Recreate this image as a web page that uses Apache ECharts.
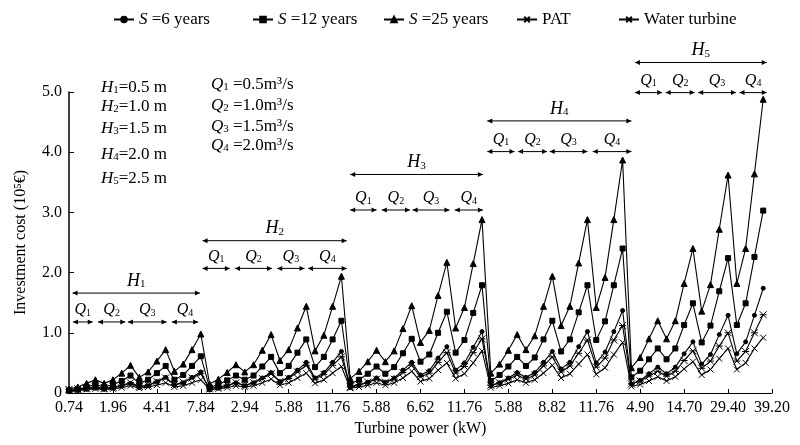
<!DOCTYPE html>
<html lang="en">
<head>
    <meta charset="UTF-8">
    <title>Investment cost vs turbine power</title>
    <script src="https://cdn.jsdelivr.net/npm/echarts/dist/echarts.min.js"></script>
</head>
<style>
    *{
        margin: 0;
        padding: 0;
    }
    html,body{
        width: 100%;
        height: 100%;
        overflow: hidden;
        background: #fff;
    }
    #main{
        width: 800px;
        height: 445px;
    }
</style>
<body>
<div id="main"></div>
<script>
    // x labels, one every 5 points (80 points = 5 heads x 4 flows x 4 efficiencies)
    let xLabels = ['0.74','1.96','4.41','7.84','2.94','5.88','11.76','5.88','6.62','11.76','5.88','8.82','11.76','4.90','14.70','29.40','39.20'];

    let s25 = [
        0.07,0.10,0.16,0.22, 0.16,0.22,0.33,0.46, 0.26,0.35,0.53,0.72, 0.36,0.48,0.72,0.98,
        0.15,0.23,0.34,0.47, 0.35,0.47,0.71,0.97, 0.54,0.72,1.08,1.44, 0.70,0.96,1.44,1.94,
        0.24,0.36,0.52,0.71, 0.52,0.70,1.07,1.45, 0.84,1.04,1.62,2.17, 1.08,1.42,2.15,2.88,
        0.33,0.48,0.71,0.97, 0.72,0.95,1.44,1.94, 1.12,1.44,2.16,2.88, 1.42,1.92,2.88,3.87,
        0.42,0.59,0.90,1.20, 0.90,1.20,1.82,2.40, 1.36,1.80,2.72,3.62, 1.82,2.40,3.64,4.88
    ];
    let s12 = [
        0.04,0.06,0.10,0.14, 0.10,0.14,0.20,0.29, 0.16,0.22,0.33,0.45, 0.22,0.30,0.45,0.61,
        0.09,0.14,0.21,0.29, 0.22,0.29,0.44,0.60, 0.33,0.45,0.67,0.89, 0.43,0.60,0.89,1.20,
        0.15,0.22,0.32,0.44, 0.32,0.43,0.66,0.90, 0.52,0.64,1.00,1.35, 0.67,0.88,1.33,1.79,
        0.20,0.30,0.44,0.60, 0.45,0.59,0.89,1.20, 0.69,0.89,1.34,1.79, 0.88,1.19,1.79,2.40,
        0.26,0.37,0.56,0.74, 0.56,0.74,1.13,1.49, 0.84,1.12,1.69,2.24, 1.13,1.49,2.26,3.03
    ];
    let s6 = [
        0.02,0.04,0.06,0.08, 0.06,0.08,0.12,0.16, 0.09,0.12,0.19,0.26, 0.13,0.17,0.26,0.35,
        0.05,0.08,0.12,0.17, 0.12,0.17,0.25,0.34, 0.19,0.26,0.38,0.51, 0.25,0.34,0.51,0.69,
        0.09,0.13,0.18,0.25, 0.18,0.25,0.38,0.51, 0.30,0.37,0.58,0.77, 0.38,0.50,0.76,1.02,
        0.12,0.17,0.25,0.34, 0.26,0.34,0.51,0.69, 0.40,0.51,0.77,1.02, 0.50,0.68,1.02,1.37,
        0.15,0.21,0.32,0.43, 0.32,0.43,0.65,0.85, 0.48,0.64,0.97,1.29, 0.65,0.85,1.29,1.74
    ];
    let pat = [
        0.04,0.05,0.06,0.07, 0.06,0.07,0.09,0.12, 0.08,0.10,0.13,0.17, 0.10,0.12,0.17,0.22,
        0.06,0.07,0.09,0.12, 0.10,0.12,0.17,0.23, 0.13,0.17,0.25,0.33, 0.16,0.22,0.33,0.44,
        0.08,0.10,0.13,0.17, 0.13,0.17,0.25,0.36, 0.19,0.24,0.38,0.50, 0.24,0.32,0.50,0.70,
        0.09,0.12,0.16,0.22, 0.17,0.22,0.33,0.46, 0.25,0.32,0.48,0.64, 0.31,0.42,0.64,0.84,
        0.11,0.14,0.20,0.27, 0.20,0.27,0.40,0.52, 0.30,0.39,0.57,0.74, 0.39,0.50,0.74,0.92
    ];
    let turbine = [
        0.06,0.07,0.08,0.10, 0.08,0.10,0.13,0.17, 0.11,0.13,0.19,0.25, 0.14,0.18,0.25,0.32,
        0.08,0.10,0.13,0.17, 0.13,0.17,0.24,0.32, 0.19,0.24,0.35,0.46, 0.23,0.31,0.46,0.60,
        0.10,0.14,0.18,0.23, 0.18,0.23,0.34,0.46, 0.27,0.33,0.51,0.67, 0.33,0.44,0.67,0.90,
        0.13,0.17,0.23,0.30, 0.23,0.30,0.45,0.60, 0.35,0.45,0.66,0.88, 0.43,0.58,0.88,1.12,
        0.15,0.20,0.28,0.36, 0.28,0.36,0.54,0.70, 0.41,0.53,0.78,1.00, 0.53,0.69,1.00,1.30
    ];

    let names = ['S=6 years','S=12 years','S=25 years','PAT','Water turbine'];

    // annotation spans in data units (point index, cost level)
    let hSpans = [[0.4,14.9],[15.2,31.6],[32.0,47.1],[47.6,64.0],[64.4,79.4]];
    let hLevels = [1.66,2.53,3.63,4.52,5.49];
    let qSpans = [
        [[0.45,2.7],[3.3,6.4],[6.7,11.1],[11.7,14.7]],
        [[15.2,18.3],[18.9,23.1],[23.7,26.8],[27.2,31.6]],
        [[32.0,35.0],[35.6,38.8],[39.1,43.3],[43.9,47.1]],
        [[47.6,50.7],[51.1,54.4],[54.7,59.0],[59.6,64.0]],
        [[64.4,67.5],[67.9,71.2],[71.6,75.9],[76.3,79.4]]
    ];
    let qLevels = [1.18,2.07,3.04,4.01,4.99];
    let heads = ['0.5','1.0','1.5','2.0','2.5'];
    let flows = ['0.5','1.0','1.5','2.0'];

    let font = 'Liberation Serif';
    let chart = echarts.init(document.getElementById('main'));

    function pts(arr){
        return arr.map((v,i)=>[i,v]);
    }
    function mkSeries(name,arr,symbol,size){
        return {
            name: name,
            type: 'line',
            data: pts(arr),
            symbol: symbol,
            symbolSize: size,
            showAllSymbol: true,
            lineStyle: {color: '#000', width: 1.1},
            itemStyle: {color: '#000', borderColor: '#000', borderWidth: 1}
        };
    }

    // one legend block per item, so each sits where the original has it
    let legendLeft = [108, 247, 378, 511, 613];
    let legends = names.map((n,k)=>({
        top: 6,
        left: legendLeft[k],
        itemWidth: 20,
        itemHeight: 7,
        data: [n],
        textStyle: {
            fontFamily: font,
            fontSize: 17,
            color: '#000',
            rich: {
                i: {fontFamily: font, fontSize: 17, fontStyle: 'italic', color: '#000'},
                n: {fontFamily: font, fontSize: 17, color: '#000'}
            }
        },
        formatter: function(name){
            if (name.indexOf('S=')==0){
                return '{i|S}{n| =' + name.slice(2) + '}';
            }
            return name;
        }
    }));

    let options = {
        animation: false,
        backgroundColor: '#fff',
        legend: legends,
        grid: {left: 69, right: 28, top: 92, bottom: 52},
        xAxis: {
            type: 'value',
            min: 0,
            max: 80,
            interval: 5,
            name: 'Turbine power (kW)',
            nameLocation: 'middle',
            nameGap: 28,
            nameTextStyle: {fontFamily: font, fontSize: 16, color: '#000'},
            axisLine: {lineStyle: {color: '#000', width: 1}},
            axisTick: {inside: true, length: 4, lineStyle: {color: '#000'}},
            splitLine: {show: false},
            axisLabel: {
                fontFamily: font,
                fontSize: 16,
                color: '#000',
                margin: 7,
                formatter: function(v){
                    return xLabels[Math.round(v/5)];
                }
            }
        },
        yAxis: {
            type: 'value',
            min: 0,
            max: 5,
            interval: 1,
            name: 'Investment cost (10⁵€)',
            nameLocation: 'middle',
            nameGap: 40,
            nameTextStyle: {fontFamily: font, fontSize: 16, color: '#000'},
            axisLine: {show: true, lineStyle: {color: '#000', width: 1.5}},
            axisTick: {show: true, inside: true, length: 5, lineStyle: {color: '#000'}},
            splitLine: {show: false},
            axisLabel: {
                fontFamily: font,
                fontSize: 16,
                color: '#000',
                margin: 7,
                formatter: function(v){
                    return v==0 ? '0' : v.toFixed(1);
                }
            }
        },
        series: [
            mkSeries(names[0], s6, 'circle', 4),
            mkSeries(names[1], s12, 'rect', 5),
            mkSeries(names[2], s25, 'triangle', 6),
            mkSeries(names[3], pat, 'path://M0,0L10,10M10,0L0,10', 6),
            mkSeries(names[4], turbine, 'path://M0,0L10,10M10,0L0,10M0,5L10,5', 7)
        ]
    };
    chart.setOption(options);

    // arrows and labels drawn over the plot
    function arrow(x1,x2,y){
        let h = 5, w = 2.5;
        return [
            {type: 'line', shape: {x1: x1, y1: y, x2: x2, y2: y}, style: {stroke: '#000', lineWidth: 1}},
            {type: 'polygon', shape: {points: [[x1,y],[x1+h,y-w],[x1+h,y+w]]}, style: {fill: '#000'}},
            {type: 'polygon', shape: {points: [[x2,y],[x2-h,y-w],[x2-h,y+w]]}, style: {fill: '#000'}}
        ];
    }
    function subText(x,y,letter,idx,size,rest,align,valign){
        let sub = Math.round(size*0.62);
        return {
            type: 'text',
            x: x,
            y: y,
            style: {
                text: '{i|' + letter + '}{s|' + idx + '}' + (rest ? '{n|' + rest + '}' : ''),
                align: align,
                verticalAlign: valign,
                rich: {
                    i: {fontFamily: font, fontSize: size, fontStyle: 'italic', fill: '#000', verticalAlign: 'bottom', lineHeight: size+2},
                    s: {fontFamily: font, fontSize: sub, fill: '#000', verticalAlign: 'bottom', lineHeight: size-1},
                    n: {fontFamily: font, fontSize: size, fill: '#000', verticalAlign: 'bottom', lineHeight: size+2}
                }
            }
        };
    }

    let els = [];
    hSpans.forEach((s,k)=>{
        let a = chart.convertToPixel({gridIndex: 0}, [s[0], hLevels[k]]);
        let b = chart.convertToPixel({gridIndex: 0}, [s[1], hLevels[k]]);
        els = els.concat(arrow(a[0], b[0], a[1]));
        els.push(subText((a[0]+b[0])/2, a[1]-3, 'H', k+1, 18, '', 'center', 'bottom'));
        qSpans[k].forEach((q,j)=>{
            let c = chart.convertToPixel({gridIndex: 0}, [q[0], qLevels[k]]);
            let d = chart.convertToPixel({gridIndex: 0}, [q[1], qLevels[k]]);
            els = els.concat(arrow(c[0], d[0], c[1]));
            els.push(subText((c[0]+d[0])/2, c[1]-4, 'Q', j+1, 16, '', 'center', 'bottom'));
        });
    });

    // parameter block at the upper left
    let hRows = [96, 115, 137, 163, 187];
    heads.forEach((h,k)=>{
        els.push(subText(101, hRows[k], 'H', k+1, 17, '=' + h + ' m', 'left', 'bottom'));
    });
    let qRows = [93, 114, 135, 154];
    flows.forEach((f,k)=>{
        els.push(subText(211, qRows[k], 'Q', k+1, 17, ' =' + f + 'm³/s', 'left', 'bottom'));
    });

    chart.setOption({graphic: els});
</script>
</body>
</html>
